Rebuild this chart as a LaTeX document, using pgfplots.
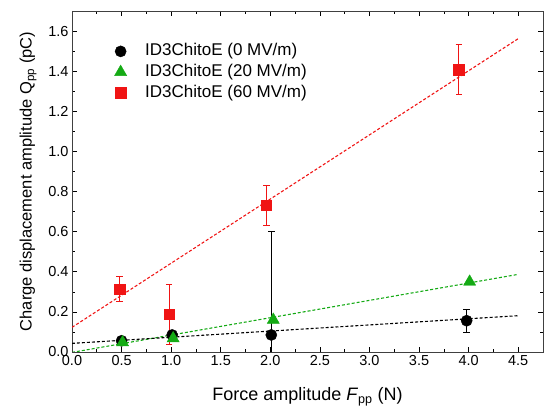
\documentclass[border=0pt]{standalone}
\usepackage{pgfplots}
\pgfplotsset{compat=1.18}
\usepackage{fontspec}
\setmainfont{Liberation Sans}
\definecolor{myred}{RGB}{240,20,20}
\definecolor{mygreen}{RGB}{20,170,20}
\newcommand{\lf}{\fontsize{17bp}{20bp}\selectfont}
\begin{document}
\begin{tikzpicture}[x=1bp,y=1bp]
\begin{axis}[
  at={(0,0)}, anchor=south west,
  scale only axis, width=471bp, height=341bp,
  xmin=0, xmax=4.75, ymin=0, ymax=1.70,
  xtick={0,0.5,...,4.5}, ytick={0,0.2,...,1.6},
  minor x tick num=1, minor y tick num=1,
  tick align=inside, major tick length=5bp, minor tick length=3bp,
  tick style={black, line width=0.6pt},
  axis line style={line width=0.8pt, black!75},
  xticklabel style={/pgf/number format/.cd, fixed, fixed zerofill, precision=1},
  yticklabel style={/pgf/number format/.cd, fixed, fixed zerofill, precision=1},
  /pgf/number format/assume math mode=true,
  ticklabel style={font=\fontsize{14.5bp}{16bp}\selectfont},
  xlabel={Force amplitude \textit{F}\textsubscript{pp} (N)},
  ylabel={Charge displacement amplitude Q\textsubscript{pp} (pC)},
  xlabel style={font=\fontsize{18bp}{20bp}\selectfont, yshift=-15bp},
  ylabel style={font=\fontsize{16.5bp}{19bp}\selectfont, yshift=5bp},
  legend style={draw=none, fill=none, at={(0.09,0.91)}, anchor=north west,
    inner sep=0pt, row sep=1.7bp, column sep=17bp,
    nodes={inner sep=1.5bp, text height=12.5bp, text depth=3.5bp}},
  legend cell align=left,
  error bars/error bar style={line width=0.6pt},
  error bars/error mark options={rotate=90, mark size=3.2bp, line width=0.6pt},
  clip=true,
]
% fit lines
\addplot[myred, densely dashed, line width=1.1pt, forget plot] coordinates {(0,0.123) (4.5,1.562)};
\addplot[mygreen, densely dashed, line width=1.1pt, forget plot] coordinates {(0,-0.002) (4.5,0.387)};
\addplot[black, densely dashed, line width=1.1pt, forget plot] coordinates {(0,0.043) (4.5,0.181)};
% data
\addplot[only marks, mark=*, mark size=5.6bp, black, mark options={fill=black},
  error bars/.cd, y dir=both, y explicit, error bar style={black}]
  coordinates {
  (0.50,0.056) +- (0,0.008)
  (1.01,0.085) +- (0,0.010)
  (2.01,0.085) +- (0,0.515)
  (3.98,0.156) +- (0,0.057)
  };
\addlegendentry{\lf ID3ChitoE (0 MV/m)}
\addplot[only marks, mark=triangle*, mark size=7bp, mygreen, mark options={fill=mygreen},
  error bars/.cd, y dir=both, y explicit, error bar style={mygreen}]
  coordinates {
  (0.51,0.048) +- (0,0.005)
  (1.02,0.068) +- (0,0.005)
  (2.03,0.160) +- (0,0.005)
  (4.01,0.350) +- (0,0.005)
  };
\addlegendentry{\lf ID3ChitoE (20 MV/m)}
\addplot[only marks, mark=square*, mark size=5.3bp, myred, mark options={fill=myred},
  error bars/.cd, y dir=both, y explicit, error bar style={myred}]
  coordinates {
  (0.48,0.314) +- (0,0.062)
  (0.98,0.189) +- (0,0.150)
  (1.96,0.732) +- (0,0.101)
  (3.90,1.408) +- (0,0.125)
  };
\addlegendentry{\lf ID3ChitoE (60 MV/m)}
\end{axis}
\pgfresetboundingbox
\path (-72bp,-63bp) rectangle (478bp,352bp);
\end{tikzpicture}
\end{document}
